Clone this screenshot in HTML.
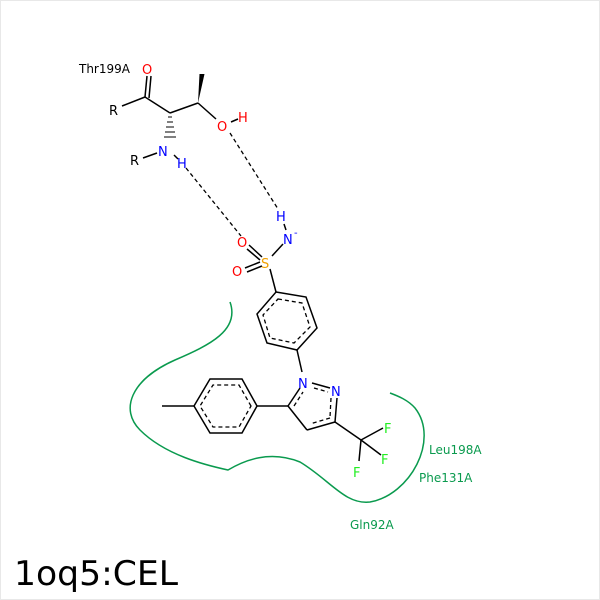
<!DOCTYPE html>
<html><head><style>body{margin:0;background:#fff}svg{display:block}</style></head><body>
<svg width="600" height="600" viewBox="0 0 600 600" xmlns="http://www.w3.org/2000/svg" font-family="DejaVu Sans, Liberation Sans, sans-serif">
<rect x="0.5" y="0.5" width="599" height="599" fill="#fff" stroke="#e8e8e8"/>
<g stroke="#000" stroke-width="1.5" fill="none">
<line x1="122" y1="106" x2="145" y2="97"/>
<line x1="145" y1="97" x2="147" y2="76"/><line x1="149" y1="98" x2="151" y2="76"/>
<line x1="145" y1="97" x2="170" y2="113"/>
<line x1="170" y1="113" x2="198" y2="103"/>
<line x1="198" y1="103" x2="216" y2="119"/>
<line x1="231" y1="122" x2="238" y2="119"/>
<line x1="143" y1="158" x2="157" y2="153"/>
<line x1="174" y1="155" x2="178" y2="159"/>
<line x1="284" y1="224" x2="286" y2="230"/>
<line x1="283" y1="244" x2="272" y2="256"/>
<line x1="249" y1="245" x2="262" y2="257"/><line x1="247" y1="249" x2="260" y2="260"/>
<line x1="245" y1="268" x2="260" y2="262"/><line x1="247" y1="272" x2="262" y2="266"/>
<line x1="270" y1="269" x2="276" y2="292"/>
<polygon points="276,292 306,297 317,328 297,350 267,343 257,314" />
<line x1="297" y1="350" x2="302" y2="372"/>
<line x1="312" y1="383" x2="330" y2="388"/>
<line x1="337" y1="398" x2="335" y2="422"/>
<line x1="335" y1="422" x2="307" y2="430"/>
<line x1="307" y1="430" x2="288" y2="406"/>
<line x1="288" y1="406" x2="300" y2="388"/>
<line x1="288" y1="406" x2="257" y2="406"/>
<polygon points="257,406 242,379 210,379 194,406 210,433 242,433"/>
<line x1="194" y1="406" x2="162" y2="406"/>
<line x1="335" y1="422" x2="361" y2="440"/>
<line x1="361" y1="440" x2="383" y2="428"/>
<line x1="361" y1="440" x2="381" y2="455"/>
<line x1="361" y1="440" x2="359" y2="461"/>
</g>
<g stroke="#000" stroke-width="1.3" fill="none" stroke-dasharray="4,3">
<polygon points="278,299 302,303 310,327 294,343 270,338 263,315"/>
<polygon points="251,406 239,385 213,385 200,406 213,427 239,427"/>
<line x1="314" y1="388" x2="328" y2="392"/>
<line x1="331" y1="398" x2="330" y2="417"/>
<line x1="330" y1="418" x2="310" y2="424"/>
<line x1="294" y1="406" x2="303" y2="392"/>
<line x1="186" y1="168" x2="241" y2="236"/>
<line x1="230" y1="133" x2="278" y2="209"/>
</g>
<polygon points="198,103 199.5,74 204.5,74" fill="#000"/>
<g stroke="#000" stroke-width="1">
<line x1="168" y1="117" x2="172" y2="117"/><line x1="167" y1="122" x2="173" y2="122"/><line x1="166" y1="127" x2="174" y2="127"/><line x1="165" y1="132" x2="175" y2="132"/><line x1="164" y1="137" x2="176" y2="137"/>
</g>
<path d="M230,302 C240,330 210,345 175,360 C130,380 120,410 140,430 C165,455 205,465 228,470 C245,460 270,450 300,462 C330,480 345,505 370,502 C410,495 440,440 415,408 C408,400 398,396 390,393" fill="none" stroke="#0a9a4e" stroke-width="1.5"/>
<g font-size="13">
<text x="79" y="73" font-size="12" fill="#000">Thr199A</text>
<text x="142" y="74" fill="#f00">O</text>
<text x="109" y="115" fill="#000">R</text>
<text x="130" y="165" fill="#000">R</text>
<text x="217" y="131" fill="#f00">O</text>
<text x="238" y="122" fill="#f00">H</text>
<text x="158" y="156" fill="#00f">N</text>
<text x="177" y="168" fill="#00f">H</text>
<text x="276" y="221" fill="#00f">H</text>
<text x="283" y="244" fill="#00f">N</text>
<text x="294" y="236" font-size="10" fill="#00f">-</text>
<text x="237" y="247" fill="#f00">O</text>
<text x="261" y="268" fill="#f0a000">S</text>
<text x="232" y="276" fill="#f00">O</text>
<text x="298" y="388" fill="#00f">N</text>
<text x="331" y="396" fill="#00f">N</text>
<text x="384" y="433" fill="#2e2">F</text>
<text x="381" y="464" fill="#2e2">F</text>
<text x="353" y="477" fill="#2e2">F</text>
</g>
<g font-size="12" fill="#0a9a4e">
<text x="429" y="454">Leu198A</text>
<text x="419" y="482">Phe131A</text>
<text x="350" y="529">Gln92A</text>
</g>
<text x="14" y="585" font-size="34" textLength="164" lengthAdjust="spacingAndGlyphs" fill="#000">1oq5:CEL</text>
</svg>
</body></html>
